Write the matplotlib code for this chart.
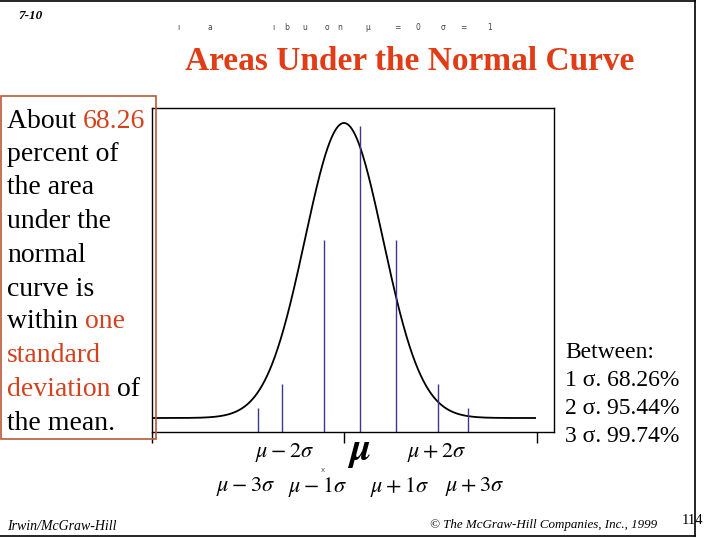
import numpy as np
import matplotlib
matplotlib.use("Agg")
import matplotlib.pyplot as plt
from matplotlib.lines import Line2D
from matplotlib.patches import Rectangle

plt.rcParams['mathtext.fontset'] = 'stix'

# ---- data ----
mu = 0.0
sigma = 1.0
curve_range = (-4.92, 4.90)
marker_pos = [-2.197, -1.582, -0.505, 0.418, 1.341, 2.418, 3.187]
marker_top = [0.0131, 0.046, 0.2407, 0.3949, 0.2407, 0.046, 0.0131]
tick_pos = [-4.923, 0.0, 4.949]
label_row1 = [r"$\mu-2\sigma$", r"$\mu+2\sigma$"]
label_row2 = [r"$\mu-3\sigma$", r"$\mu-1\sigma$", r"$\mu+1\sigma$", r"$\mu+3\sigma$"]
between_lines = ["Between:", "1 σ. 68.26%", "2 σ. 95.44%", "3 σ. 99.74%"]
title = "Areas Under the Normal Curve"
garbled = ["ı", "a", "ı", "b", "u", "o", "n", "µ", "=", "0", "σ", "=", "1"]

W, H = 720, 540
RED = '#d2421e'
TITLE_RED = '#e03c16'
NAVY = '#3a3a88'

fig = plt.figure(figsize=(7.2, 5.4), dpi=100)

def fx(px):
    return px / W

def fy(py):
    return 1 - py / H

# slide border
fig.add_artist(Line2D([fx(0), fx(695)], [fy(1), fy(1)], color='black', lw=1.2))
fig.add_artist(Line2D([fx(695), fx(695)], [fy(0), fy(536)], color='black', lw=1.2))
fig.add_artist(Line2D([fx(0), fx(695)], [fy(536), fy(536)], color='black', lw=1.2))

# header
fig.text(fx(18), fy(16), "7-10", fontsize=9.5, fontweight='bold', fontstyle='italic',
         family='Liberation Serif', va='center', ha='left')
gx = [178, 210, 273, 287, 305, 327, 340, 368, 397, 418, 443, 463, 490]
for ch, x in zip(garbled, gx):
    fig.text(fx(x), fy(28), ch, fontsize=5.5, color='#444444', family='DejaVu Sans',
             va='center', ha='center')
fig.text(fx(410), fy(62), title, fontsize=24, fontweight='bold', color=TITLE_RED,
         family='Liberation Serif', va='center', ha='center')

# main axes
ax = fig.add_axes([fx(152), fy(432), (554 - 152) / W, (432 - 108) / H])
x = np.linspace(curve_range[0], curve_range[1], 800)
y = np.exp(-0.5 * ((x - mu) / sigma) ** 2) / (sigma * np.sqrt(2 * np.pi))
ax.plot(x, y, color='black', lw=1.3)
ylo = -0.01893
ax.vlines(marker_pos, ylo, marker_top, colors=NAVY, lw=1.0)
ax.set_xlim(-4.923, 5.385)
ax.set_ylim(ylo, 0.4192)
ax.set_xticks(tick_pos)
ax.set_xticklabels([])
ax.set_yticks([])
ax.tick_params(axis='x', direction='out', length=8, width=1, color='black')
for s in ax.spines.values():
    s.set_color('black')
    s.set_linewidth(1.0)

# labels beneath axis
fig.text(fx(285), fy(453), label_row1[0], fontsize=16, ha='center', va='center')
fig.text(fx(359), fy(451), r"$\boldsymbol{\mu}$", fontsize=28, ha='center', va='center')
fig.text(fx(437), fy(453), label_row1[1], fontsize=16, ha='center', va='center')
row2_x = [246, 318, 400, 475]
for lab, xx in zip(label_row2, row2_x):
    fig.text(fx(xx), fy(487), lab, fontsize=16, ha='center', va='center')
fig.text(fx(323), fy(470), "x", fontsize=5, color='#555555', ha='center', va='center')

# left text box
fig.add_artist(Rectangle((fx(1), fy(439)), (156 - 1) / W, (439 - 96) / H,
                         transform=fig.transFigure, fill=False,
                         edgecolor='#b85a3a', lw=1.2))
left_lines = [
    [("About ", 'black'), ("68.26", RED)],
    [("percent of", 'black')],
    [("the area", 'black')],
    [("under the", 'black')],
    [("normal", 'black')],
    [("curve is", 'black')],
    [("within ", 'black'), ("one", RED)],
    [("standard", RED)],
    [("deviation", RED), (" of", 'black')],
    [("the mean.", 'black')],
]
line_y = [121, 155, 188, 221, 255, 289, 322, 356, 389, 423]
renderer = fig.canvas.get_renderer()
for parts, yy in zip(left_lines, line_y):
    xcur = 7
    for txt, col in parts:
        t = fig.text(fx(xcur), fy(yy), txt, fontsize=20, color=col,
                     family='Liberation Serif', va='center', ha='left')
        bb = t.get_window_extent(renderer=renderer)
        xcur += bb.width

# right text
rt_y = [352, 380, 408, 437]
for s, yy in zip(between_lines, rt_y):
    fig.text(fx(565), fy(yy), s, fontsize=17, family='Liberation Serif',
             va='center', ha='left')

# footer
fig.text(fx(7), fy(527), "Irwin/McGraw-Hill", fontsize=10, fontstyle='italic',
         family='Liberation Serif', va='center', ha='left')
fig.text(fx(430), fy(525), "© The McGraw-Hill Companies, Inc., 1999", fontsize=9.4,
         fontstyle='italic', family='Liberation Serif', va='center', ha='left')
fig.text(fx(682), fy(521), "114", fontsize=10.5, family='Liberation Serif',
         va='center', ha='left')

fig.savefig("out.png", dpi=100)
